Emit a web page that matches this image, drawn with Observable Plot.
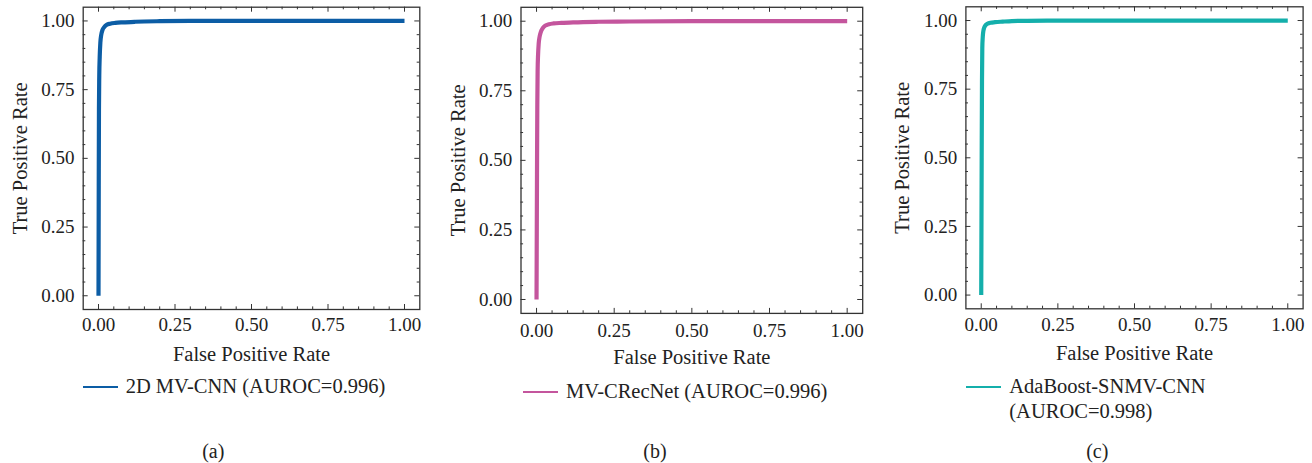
<!DOCTYPE html>
<html>
<head>
<meta charset="utf-8">
<script src="https://cdn.jsdelivr.net/npm/d3@7"></script>
<script src="https://cdn.jsdelivr.net/npm/@observablehq/plot@0.6"></script>
<style>
  html, body { margin: 0; padding: 0; background: #fff; }
  #root { position: relative; width: 1312px; height: 463px; overflow: hidden; font-family: 'Liberation Serif', 'DejaVu Serif', serif; color: #222; }
  .panel { position: absolute; top: 0; }
  .legend { position: absolute; font-size: 20.5px; line-height: 25.5px; color: #222; white-space: nowrap; }
  .legend .swatch { position: absolute; height: 2px; }
  .legend .txt { position: absolute; }
  .caption { position: absolute; font-size: 20px; color: #222; transform: translate(-50%, -50%); white-space: nowrap; }
</style>
</head>
<body>
<div id="root"></div>
<script>
// ---- data ----
const majorTicks = [0, 0.25, 0.5, 0.75, 1.0];
const minorTicks = [0.05, 0.10, 0.15, 0.20, 0.30, 0.35, 0.40, 0.45, 0.55, 0.60, 0.65, 0.70, 0.80, 0.85, 0.90, 0.95];

const names = ["2D MV-CNN (AUROC=0.996)", "MV-CRecNet (AUROC=0.996)", "AdaBoost-SNMV-CNN (AUROC=0.998)"];
const legendLines = [["2D MV-CNN (AUROC=0.996)"], ["MV-CRecNet (AUROC=0.996)"], ["AdaBoost-SNMV-CNN", "(AUROC=0.998)"]];
const captions = ["(a)", "(b)", "(c)"];
const colors = ["#0C5DA5", "#C4559D", "#14AFAB"];

const fprA = [0, 0.0008, 0.0015, 0.0025, 0.004, 0.006, 0.009, 0.013, 0.019, 0.027, 0.038, 0.055, 0.08, 0.12, 0.2, 0.3, 0.5, 1.0];
const tprA = [0, 0.40, 0.68, 0.80, 0.87, 0.92, 0.95, 0.967, 0.978, 0.986, 0.990, 0.993, 0.995, 0.997, 0.999, 1.0, 1.0, 1.0];

const fprB = [0, 0.0015, 0.0025, 0.0035, 0.005, 0.007, 0.010, 0.014, 0.020, 0.028, 0.040, 0.055, 0.08, 0.12, 0.2, 0.3, 0.5, 1.0];
const tprB = [0, 0.45, 0.70, 0.82, 0.88, 0.92, 0.945, 0.962, 0.975, 0.984, 0.989, 0.992, 0.994, 0.996, 0.998, 0.999, 1.0, 1.0];

const fprC = [0, 0.0015, 0.0025, 0.0035, 0.005, 0.007, 0.010, 0.014, 0.020, 0.030, 0.045, 0.07, 0.10, 0.15, 0.25, 0.5, 1.0];
const tprC = [0, 0.50, 0.78, 0.90, 0.94, 0.962, 0.975, 0.983, 0.988, 0.992, 0.994, 0.996, 0.998, 0.999, 1.0, 1.0, 1.0];

const series = [[fprA, tprA], [fprB, tprB], [fprC, tprC]];

// ---- layout (pixels) ----
const layouts = [
  {left: 0,   width: 440, mL: 82.7, mR: 20.7, top: 6.7, bottom: 309.0, xPad: 8,  legY: 386.7, lineX: 83, lineW: 35, txtX: 125.7, capX: 213.3},
  {left: 440, width: 440, mL: 80.5, mR: 17.8, top: 6.8, bottom: 312.9, xPad: 10, legY: 391.7, lineX: 523, lineW: 35,  txtX: 566,   capX: 655},
  {left: 880, width: 432, mL: 85.4, mR: 9.4,  top: 6.3, bottom: 308.3, xPad: 8.5, legY: 386.7, lineX: 966, lineW: 35, txtX: 1009.3, capX: 1097.3}
];

const root = document.getElementById("root");
const H = 372;

series.forEach(([fpr, tpr], i) => {
  const L = layouts[i];
  const data = fpr.map((x, j) => ({fpr: x, tpr: tpr[j], name: names[i]}));
  const frameH = L.bottom - L.top;
  const frameW = L.width - L.mL - L.mR;
  const majLen = 5, minLen = 2.6;
  const chart = Plot.plot({
    width: L.width,
    height: H,
    marginLeft: L.mL,
    marginRight: L.mR,
    marginTop: L.top,
    marginBottom: H - L.bottom,
    style: {fontFamily: "'Liberation Serif', 'DejaVu Serif', serif", fontSize: "19px", color: "#222", background: "transparent", overflow: "visible"},
    x: {domain: [-0.05, 1.05], axis: null},
    y: {domain: [-0.05, 1.05], axis: null},
    marks: [
      // inward ticks, four sides
      Plot.tickX(majorTicks, {x: d => d, insetTop: frameH - majLen, stroke: "#333", strokeWidth: 1}),
      Plot.tickX(majorTicks, {x: d => d, insetBottom: frameH - majLen, stroke: "#333", strokeWidth: 1}),
      Plot.tickX(minorTicks, {x: d => d, insetTop: frameH - minLen, stroke: "#333", strokeWidth: 1}),
      Plot.tickX(minorTicks, {x: d => d, insetBottom: frameH - minLen, stroke: "#333", strokeWidth: 1}),
      Plot.tickY(majorTicks, {y: d => d, insetRight: frameW - majLen, stroke: "#333", strokeWidth: 1}),
      Plot.tickY(majorTicks, {y: d => d, insetLeft: frameW - majLen, stroke: "#333", strokeWidth: 1}),
      Plot.tickY(minorTicks, {y: d => d, insetRight: frameW - minLen, stroke: "#333", strokeWidth: 1}),
      Plot.tickY(minorTicks, {y: d => d, insetLeft: frameW - minLen, stroke: "#333", strokeWidth: 1}),
      Plot.line(data, {x: "fpr", y: "tpr", stroke: colors[i], strokeWidth: 4.2, curve: "monotone-x", strokeLinecap: "butt"}),
      Plot.frame({stroke: "#333", strokeWidth: 1.3}),
      Plot.axisX(majorTicks, {anchor: "bottom", tickSize: 0, tickPadding: L.xPad, tickFormat: d3.format(".2f"), label: null}),
      Plot.axisY(majorTicks, {anchor: "left", tickSize: 0, tickPadding: 8.7, tickFormat: d3.format(".2f"), label: null}),
      Plot.text(["False Positive Rate"], {text: d => d, frameAnchor: "bottom", dy: 44.5, fontSize: 20.5, textAnchor: "middle", lineAnchor: "middle"}),
      Plot.text(["True Positive Rate"], {text: d => d, frameAnchor: "left", dx: -63, rotate: -90, fontSize: 20.5, textAnchor: "middle", lineAnchor: "middle"})
    ]
  });
  const wrap = document.createElement("div");
  wrap.className = "panel";
  wrap.style.left = L.left + "px";
  wrap.appendChild(chart);
  root.appendChild(wrap);

  // legend
  const leg = document.createElement("div");
  leg.className = "legend";
  leg.style.left = "0px";
  leg.style.top = "0px";
  const sw = document.createElement("div");
  sw.className = "swatch";
  sw.style.left = L.lineX + "px";
  sw.style.top = Math.round(L.legY - 1) + "px";
  sw.style.width = L.lineW + "px";
  sw.style.background = colors[i];
  leg.appendChild(sw);
  legendLines[i].forEach((t, k) => {
    const s = document.createElement("div");
    s.className = "txt";
    s.textContent = t;
    s.style.left = L.txtX + "px";
    s.style.top = (L.legY - 13 + k * 25.3) + "px";
    leg.appendChild(s);
  });
  root.appendChild(leg);

  const cap = document.createElement("div");
  cap.className = "caption";
  cap.textContent = captions[i];
  cap.style.left = L.capX + "px";
  cap.style.top = "450.7px";
  root.appendChild(cap);
});
</script>
</body>
</html>
